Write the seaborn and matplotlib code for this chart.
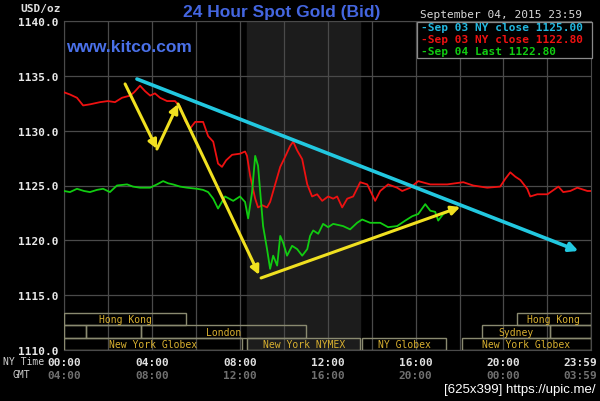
import numpy as np
import pandas as pd
import matplotlib
matplotlib.use("Agg")
import matplotlib.pyplot as plt
from matplotlib.patches import Rectangle
import seaborn as sns

# Sep 03 trace (red): hour of NY day, price
sep03_hours = [0.00, 0.27, 0.59, 0.87, 1.18, 1.64, 2.00, 2.32, 2.64, 3.01, 3.19, 3.46, 3.69,
               3.92, 4.14, 4.37, 4.69, 5.05, 5.28, 5.51, 5.74, 5.97, 6.33, 6.56, 6.79, 7.01,
               7.19, 7.38, 7.65, 8.01, 8.24, 8.33, 8.47, 8.70, 8.83, 9.02, 9.24, 9.38, 9.61,
               9.84, 10.06, 10.29, 10.43, 10.61, 10.84, 11.07, 11.29, 11.52, 11.75, 12.02,
               12.25, 12.43, 12.66, 12.89, 13.16, 13.48, 13.80, 14.16, 14.39, 14.75, 15.16,
               15.39, 15.76, 16.12, 16.67, 17.44, 18.17, 18.62, 19.26, 19.85, 20.08, 20.31,
               20.54, 20.77, 21.08, 21.22, 21.54, 22.00, 22.50, 22.72, 23.04, 23.36, 23.82, 23.98]
sep03_price = [1133.5, 1133.3, 1133.0, 1132.3, 1132.4, 1132.6, 1132.7, 1132.6, 1133.0, 1133.2,
               1133.5, 1134.1, 1133.6, 1133.2, 1133.4, 1133.0, 1132.7, 1132.7, 1132.2, 1130.9,
               1130.2, 1130.8, 1130.8, 1129.5, 1129.0, 1127.0, 1126.7, 1127.3, 1127.8, 1127.9,
               1128.1, 1127.7, 1125.9, 1123.8, 1123.0, 1123.2, 1123.0, 1123.5, 1125.1, 1126.7,
               1127.6, 1128.6, 1129.0, 1128.2, 1127.4, 1125.1, 1124.0, 1124.2, 1123.6, 1124.0,
               1123.8, 1124.0, 1123.0, 1123.8, 1124.0, 1125.3, 1125.1, 1123.6, 1124.5, 1125.1,
               1124.8, 1124.5, 1124.8, 1125.4, 1125.1, 1125.1, 1125.3, 1125.0, 1124.8, 1124.9,
               1125.6, 1126.2, 1125.8, 1125.5, 1124.7, 1124.0, 1124.2, 1124.2, 1124.9, 1124.4,
               1124.5, 1124.8, 1124.5, 1124.5]

# Sep 04 trace (green)
sep04_hours = [0.00, 0.27, 0.59, 0.91, 1.18, 1.50, 1.78, 2.09, 2.41, 2.87, 3.14, 3.46, 3.92,
               4.23, 4.51, 4.74, 4.96, 5.28, 5.60, 6.06, 6.33, 6.56, 6.79, 7.01, 7.33, 7.70,
               8.01, 8.24, 8.38, 8.56, 8.70, 8.83, 8.93, 9.06, 9.24, 9.38, 9.52, 9.70, 9.84,
               9.97, 10.15, 10.38, 10.61, 10.84, 11.07, 11.20, 11.34, 11.57, 11.79, 12.02,
               12.25, 12.48, 12.70, 13.02, 13.34, 13.57, 13.93, 14.39, 14.75, 15.16, 15.53,
               15.85, 16.12, 16.44, 16.67, 16.89, 17.03, 17.26, 17.58, 17.67]
sep04_price = [1124.5, 1124.4, 1124.7, 1124.5, 1124.4, 1124.6, 1124.7, 1124.4, 1125.0, 1125.1,
               1124.9, 1124.8, 1124.8, 1125.1, 1125.4, 1125.2, 1125.1, 1124.9, 1124.8, 1124.7,
               1124.6, 1124.4, 1123.8, 1122.9, 1124.0, 1123.6, 1124.0, 1123.5, 1122.0, 1124.4,
               1127.7, 1126.8, 1124.4, 1121.3, 1119.2, 1117.4, 1118.6, 1117.7, 1120.4, 1119.8,
               1118.6, 1119.5, 1119.2, 1118.6, 1119.2, 1120.4, 1120.9, 1120.6, 1121.5, 1121.2,
               1121.5, 1121.4, 1121.3, 1121.0, 1121.6, 1121.9, 1121.6, 1121.6, 1121.2, 1121.3,
               1121.8, 1122.2, 1122.4, 1123.3, 1122.7, 1122.6, 1121.8, 1122.4, 1122.7, 1122.8]

# trading sessions: name, start hour, end hour, row (0 = bottom)
session_names = ["New York Globex", "New York NYMEX", "NY Globex", "New York Globex",
                 "", "", "London", "Sydney", "",
                 "Hong Kong", "Hong Kong"]
session_start = [0.0, 8.33, 13.55, 18.1, 0.0, 1.0, 3.5, 19.0, 22.1, 0.0, 20.6]
session_end = [8.1, 13.48, 17.4, 23.98, 1.0, 3.5, 11.0, 22.1, 23.98, 5.55, 23.98]
session_row = [0, 0, 0, 0, 1, 1, 1, 1, 1, 2, 2]

# drawn trend arrows (hour, price)
yellow_arrows = [((2.78, 1134.26), (4.23, 1128.33)),
                 ((4.23, 1128.33), (5.19, 1132.43)),
                 ((5.19, 1132.43), (8.88, 1116.85)),
                 ((8.97, 1116.57), (18.03, 1123.04))]
cyan_arrow = ((3.32, 1134.71), (23.41, 1119.03))

nymex_open, nymex_close = 8.33, 13.48
y_ticks = [1110, 1115, 1120, 1125, 1130, 1135, 1140]
x_ticks = [0, 4, 8, 12, 16, 20, 23.983]
ny_labels = ["00:00", "04:00", "08:00", "12:00", "16:00", "20:00", "23:59"]
gmt_labels = ["04:00", "08:00", "12:00", "16:00", "20:00", "00:00", "03:59"]
legend_lines = ["-Sep 03 NY close 1125.00", "-Sep 03 NY close 1122.80", "-Sep 04 Last 1122.80"]

sns.set_style("dark", {"axes.facecolor": "black", "figure.facecolor": "black"})
mono = "DejaVu Sans Mono"

fig = plt.figure(figsize=(6.0, 4.02), dpi=100)
ax = fig.add_axes([64 / 600, 1 - 351 / 402, 527 / 600, 329 / 402])
ax.set_facecolor("black")

df = pd.concat([
    pd.DataFrame({"hour": sep03_hours, "price": sep03_price, "day": "Sep 03"}),
    pd.DataFrame({"hour": sep04_hours, "price": sep04_price, "day": "Sep 04"}),
])

ax.axvspan(nymex_open, nymex_close, color="#1c1c1c", zorder=0)
for xv in range(0, 24, 2):
    ax.axvline(xv, color="#4a4a4a", lw=0.9, zorder=1)
for yv in y_ticks:
    ax.axhline(yv, color="#4a4a4a", lw=0.9, zorder=1)

sns.lineplot(data=df, x="hour", y="price", hue="day",
             palette={"Sep 03": "#ee1111", "Sep 04": "#11cc11"},
             lw=1.3, legend=False, ax=ax, zorder=3)

for (x0, y0), (x1, y1) in yellow_arrows:
    ax.annotate("", xy=(x1, y1), xytext=(x0, y0),
                arrowprops=dict(arrowstyle="-|>", color="#f0e020", lw=2.2,
                                mutation_scale=13, shrinkA=0, shrinkB=0), zorder=5)
ax.annotate("", xy=cyan_arrow[1], xytext=cyan_arrow[0],
            arrowprops=dict(arrowstyle="-|>", color="#22c8e0", lw=2.6,
                            mutation_scale=13, shrinkA=0, shrinkB=0), zorder=5)

# session bars
row_h = 1.12
for name, s, e, r in zip(session_names, session_start, session_end, session_row):
    ax.add_patch(Rectangle((s, 1110 + r * row_h), e - s, row_h, fill=False,
                           ec="#8a8a70", lw=1.0, zorder=4))
    if name:
        ax.text((s + e) / 2, 1110 + (r + 0.5) * row_h, name, color="#d8b030",
                ha="center", va="center", family=mono, fontsize=7, zorder=6)

ax.set_xlim(0, 23.983)
ax.set_ylim(1110, 1140)
ax.set_yticks(y_ticks)
ax.set_yticklabels([f"{v:.1f}" for v in y_ticks], family=mono, fontweight="bold",
                   fontsize=8, color="#e8e8e8")
ax.set_xticks([])
ax.tick_params(axis="y", length=0, pad=4)
ax.set_xlabel("")
ax.set_ylabel("")
for sp in ax.spines.values():
    sp.set_color("#4a4a4a")

# time labels below (last one is right-aligned so it stays inside the figure)
for xt, ny, gmt in zip(x_ticks, ny_labels, gmt_labels):
    ha = "right" if ny == "23:59" else "center"
    xx = 1.0 + 6 / 527 if ny == "23:59" else None
    kw = dict(ha=ha, va="center", family=mono, fontweight="bold", fontsize=8)
    if xx is None:
        ax.text(xt, -0.035, ny, transform=ax.get_xaxis_transform(), color="#e0e0e0", **kw)
        ax.text(xt, -0.075, gmt, transform=ax.get_xaxis_transform(), color="#707070", **kw)
    else:
        ax.text(xx, -0.035, ny, transform=ax.transAxes, color="#e0e0e0", **kw)
        ax.text(xx, -0.075, gmt, transform=ax.transAxes, color="#707070", **kw)
fig.text(44 / 600, 1 - 362 / 402, "NY Time", ha="right", va="center", family=mono,
         fontsize=7, color="#d0d0d0")
fig.text(21 / 600, 1 - 375 / 402, "GMT", ha="center", va="center", family=mono,
         fontsize=7, color="#d0d0d0")

# titles
fig.text(282 / 600, 1 - 12 / 402, "24 Hour Spot Gold (Bid)", ha="center", va="center",
         family="Liberation Sans", fontweight="bold", fontsize=12.5, color="#4466e0")
fig.text(66 / 600, 1 - 48 / 402, "www.kitco.com", ha="left", va="center",
         family="Liberation Sans", fontweight="bold", fontsize=12.5, color="#4a70e8", zorder=6)
fig.text(41 / 600, 1 - 9 / 402, "USD/oz", ha="center", va="center", family=mono,
         fontweight="bold", fontsize=8, color="#e0e0e0")
fig.text(501 / 600, 1 - 15 / 402, "September 04, 2015 23:59", ha="center", va="center",
         family=mono, fontsize=8, color="#d8d8d8")

# legend box
ax.add_patch(Rectangle((417 / 600, 1 - 59 / 402), 175 / 600, 36 / 402, transform=fig.transFigure,
                       fc="black", ec="#8a8a8a", lw=0.9, zorder=7, clip_on=False))
for i, (txt, col) in enumerate(zip(legend_lines, ["#22b8e0", "#ee1111", "#11cc11"])):
    fig.text(421 / 600, 1 - (28 + 12 * i) / 402, txt, ha="left", va="center", family=mono,
             fontweight="bold", fontsize=8, color=col, zorder=8)

fig.text(595 / 600, 1 - 390 / 402, "[625x399] https://upic.me/", ha="right", va="center",
         family="Liberation Sans", fontsize=9.5, color="white")

fig.savefig("out.png", dpi=100, facecolor="black")
